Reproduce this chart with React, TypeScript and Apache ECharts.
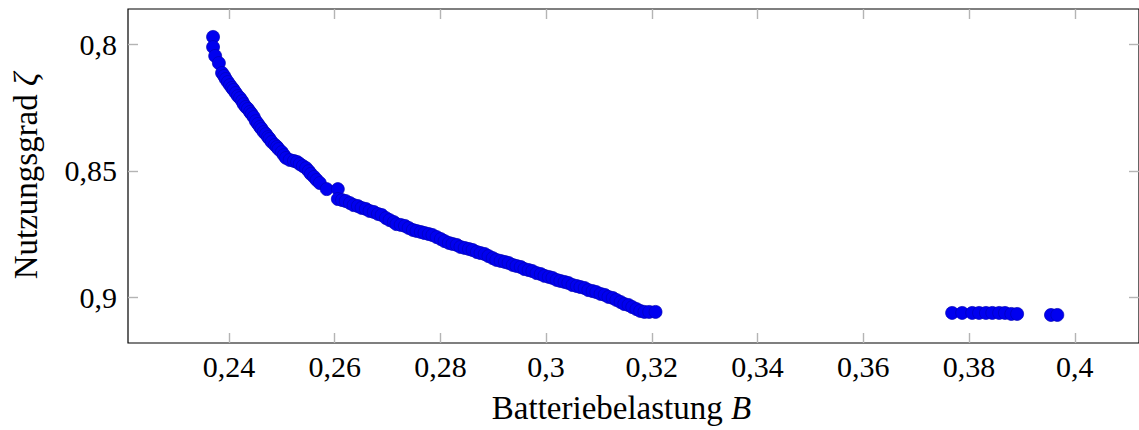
import React, { useEffect, useRef } from "react";
import * as echarts from "echarts";

const batteryLoad: number[] = [
  0.2370, 0.2370, 0.2374, 0.2381, 0.2387, 0.2391, 0.2394, 0.2398, 0.2402, 0.2406,
  0.2409, 0.2413, 0.2417, 0.2421, 0.2425, 0.2428, 0.2432, 0.2436, 0.2440, 0.2443,
  0.2447, 0.2451, 0.2455, 0.2459, 0.2462, 0.2466, 0.2470, 0.2474, 0.2477, 0.2481,
  0.2487, 0.2491, 0.2494, 0.2500, 0.2504, 0.2508, 0.2515, 0.2523, 0.2529, 0.2534,
  0.2540, 0.2546, 0.2551, 0.2555, 0.2561, 0.2566, 0.2572, 0.2585, 0.2606, 0.2606,
  0.2614, 0.2621, 0.2629, 0.2636, 0.2644, 0.2651, 0.2659, 0.2666, 0.2674, 0.2682,
  0.2689, 0.2697, 0.2704, 0.2712, 0.2717, 0.2725, 0.2733, 0.2740, 0.2748, 0.2755,
  0.2763, 0.2770, 0.2778, 0.2785, 0.2793, 0.2801, 0.2808, 0.2816, 0.2823, 0.2831,
  0.2838, 0.2846, 0.2854, 0.2861, 0.2869, 0.2876, 0.2884, 0.2891, 0.2899, 0.2906,
  0.2914, 0.2922, 0.2929, 0.2937, 0.2944, 0.2952, 0.2959, 0.2967, 0.2974, 0.2982,
  0.2990, 0.2997, 0.3005, 0.3012, 0.3020, 0.3027, 0.3035, 0.3042, 0.3050, 0.3058,
  0.3065, 0.3073, 0.3080, 0.3088, 0.3095, 0.3103, 0.3111, 0.3118, 0.3126, 0.3133,
  0.3141, 0.3148, 0.3156, 0.3163, 0.3171, 0.3178, 0.3186, 0.3195, 0.3207,
  0.3768, 0.3787, 0.3806, 0.3819, 0.3832, 0.3844, 0.3857, 0.3868, 0.3880, 0.3891,
  0.3955, 0.3967,
];

const utilization: number[] = [
  0.7972, 0.8012, 0.8047, 0.8075, 0.8114, 0.8126, 0.8138, 0.8150, 0.8162, 0.8173,
  0.8181, 0.8193, 0.8205, 0.8213, 0.8225, 0.8237, 0.8248, 0.8256, 0.8268, 0.8276,
  0.8288, 0.8304, 0.8315, 0.8327, 0.8335, 0.8347, 0.8355, 0.8367, 0.8374, 0.8386,
  0.8398, 0.8406, 0.8414, 0.8426, 0.8438, 0.8449, 0.8457, 0.8461, 0.8465, 0.8473,
  0.8481, 0.8489, 0.8501, 0.8512, 0.8524, 0.8536, 0.8548, 0.8572, 0.8572, 0.8611,
  0.8615, 0.8619, 0.8627, 0.8635, 0.8639, 0.8646, 0.8650, 0.8658, 0.8662, 0.8670,
  0.8674, 0.8686, 0.8694, 0.8702, 0.8710, 0.8713, 0.8717, 0.8725, 0.8733, 0.8737,
  0.8741, 0.8745, 0.8749, 0.8753, 0.8761, 0.8769, 0.8777, 0.8784, 0.8788, 0.8792,
  0.8800, 0.8804, 0.8808, 0.8812, 0.8820, 0.8824, 0.8828, 0.8836, 0.8844, 0.8851,
  0.8855, 0.8859, 0.8863, 0.8871, 0.8875, 0.8879, 0.8887, 0.8891, 0.8895, 0.8903,
  0.8907, 0.8914, 0.8918, 0.8922, 0.8930, 0.8934, 0.8938, 0.8942, 0.8950, 0.8954,
  0.8958, 0.8962, 0.8970, 0.8974, 0.8978, 0.8985, 0.8989, 0.8997, 0.9001, 0.9009,
  0.9017, 0.9025, 0.9029, 0.9037, 0.9045, 0.9052, 0.9056, 0.9056, 0.9056,
  0.9060, 0.9060, 0.9060, 0.9060, 0.9060, 0.9060, 0.9060, 0.9060, 0.9064, 0.9064,
  0.9068, 0.9068,
];

const xTicks: number[] = [0.24, 0.26, 0.28, 0.3, 0.32, 0.34, 0.36, 0.38, 0.4];
const yTicks: number[] = [0.8, 0.85, 0.9];

const X_MIN = 0.22091;
const X_MAX = 0.41215;
const Y_MIN = 0.78620;
const Y_MAX = 0.91786;

const FONT = "'Liberation Serif', 'Times New Roman', serif";
const TICK_COLOR = "#b4b4b4";
const NAME_SIZE = 33;
const fmt = (v: number) => String(Number(v.toFixed(4))).replace(".", ",");

export default function App() {
  const ref = useRef<HTMLDivElement>(null);

  useEffect(() => {
    if (!ref.current) return;
    const chart = echarts.init(ref.current, null, { renderer: "svg" });
    const points = batteryLoad.map((b, i) => [b, utilization[i]]);

    const tickBase = {
      show: true,
      inside: true,
      length: 10,
      lineStyle: { color: TICK_COLOR, width: 1.4 },
    };

    chart.setOption({
      animation: false,
      backgroundColor: "#ffffff",
      grid: {
        left: 128,
        right: -1,
        top: 9,
        bottom: 87,
        show: true,
        borderColor: "#000000",
        borderWidth: 1.2,
        containLabel: false,
      },
      xAxis: [
        {
          type: "value",
          position: "bottom",
          min: X_MIN,
          max: X_MAX,
          axisLine: { show: false },
          splitLine: { show: false },
          axisTick: { ...tickBase, customValues: xTicks },
          axisLabel: {
            customValues: xTicks,
            formatter: (v: number) => fmt(v),
            fontFamily: FONT,
            fontSize: 30,
            color: "#000",
            margin: 8,
          },
          name: "Batteriebelastung {i|B}",
          nameLocation: "middle",
          nameGap: 48,
          nameTextStyle: {
            fontFamily: FONT,
            fontSize: NAME_SIZE,
            color: "#000",
            padding: [0, 24, 0, 0],
            rich: {
              i: { fontFamily: FONT, fontSize: NAME_SIZE, fontStyle: "italic", color: "#000" },
            },
          },
        },
        {
          type: "value",
          position: "top",
          min: X_MIN,
          max: X_MAX,
          axisLine: { show: false },
          splitLine: { show: false },
          axisTick: { ...tickBase, customValues: xTicks },
          axisLabel: { show: false },
        },
      ],
      yAxis: [
        {
          type: "value",
          position: "left",
          inverse: true,
          min: Y_MIN,
          max: Y_MAX,
          axisLine: { show: false },
          splitLine: { show: false },
          axisTick: { ...tickBase, customValues: yTicks },
          axisLabel: {
            customValues: yTicks,
            formatter: (v: number) => fmt(v),
            fontFamily: FONT,
            fontSize: 30,
            color: "#000",
            margin: 11,
          },
          name: "Nutzungsgrad {i|ζ}",
          nameLocation: "middle",
          nameRotate: 90,
          nameGap: 86,
          nameTextStyle: {
            fontFamily: FONT,
            fontSize: NAME_SIZE,
            color: "#000",
            rich: {
              i: { fontFamily: FONT, fontSize: NAME_SIZE, fontStyle: "italic", color: "#000" },
            },
          },
        },
        {
          type: "value",
          position: "right",
          inverse: true,
          min: Y_MIN,
          max: Y_MAX,
          axisLine: { show: false },
          splitLine: { show: false },
          axisTick: { ...tickBase, customValues: yTicks },
          axisLabel: { show: false },
        },
      ],
      series: [
        {
          type: "scatter",
          xAxisIndex: 0,
          yAxisIndex: 0,
          data: points,
          symbol: "circle",
          symbolSize: 13,
          itemStyle: {
            color: "#0000f0",
            borderColor: "#0000b4",
            borderWidth: 0.7,
            opacity: 1,
          },
        },
      ],
    });

    return () => chart.dispose();
  }, []);

  return (
    <div
      ref={ref}
      style={{ position: "fixed", left: 0, top: 0, width: 1139, height: 430, background: "#fff" }}
    />
  );
}
